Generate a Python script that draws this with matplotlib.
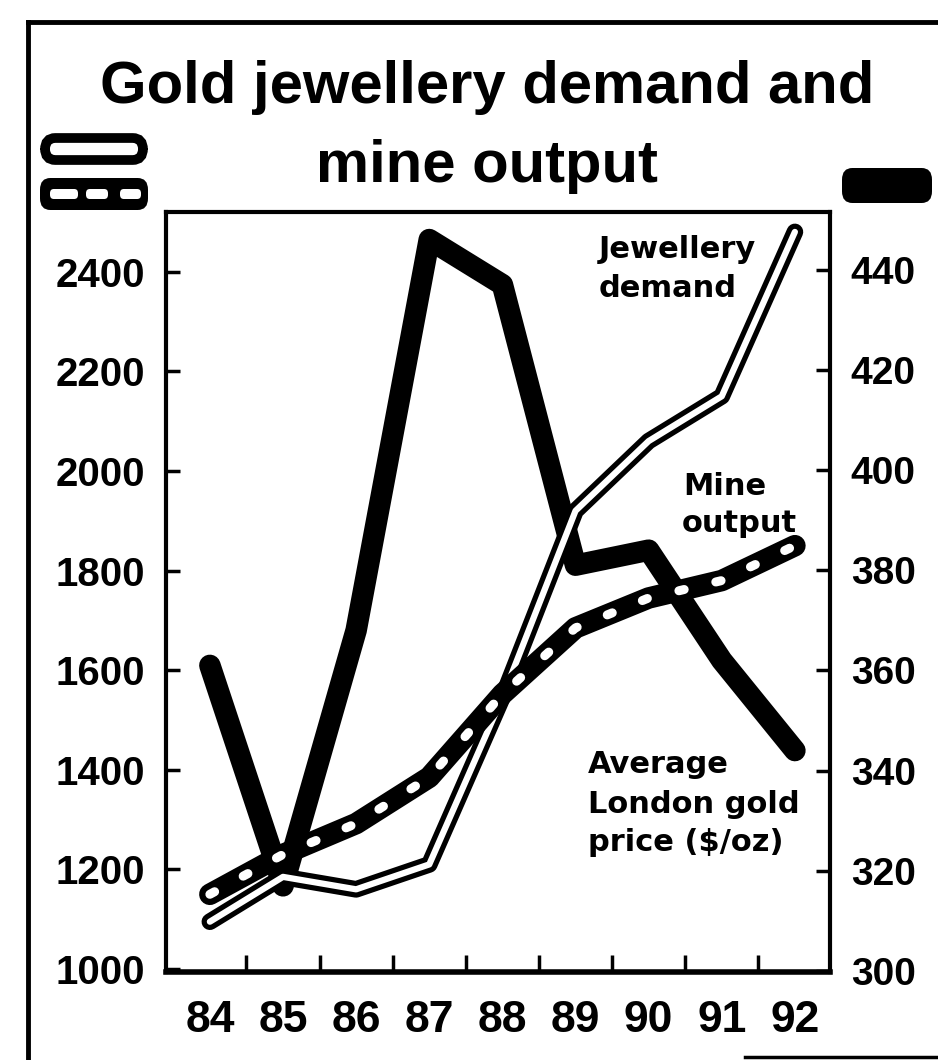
import matplotlib
matplotlib.use("Agg")
import matplotlib.pyplot as plt
from matplotlib.lines import Line2D
from matplotlib.patches import FancyBboxPatch

# Values
years = [84, 85, 86, 87, 88, 89, 90, 91, 92]
year_labels = ["84", "85", "86", "87", "88", "89", "90", "91", "92"]
jewellery_demand = [1095, 1185, 1160, 1210, 1545, 1920, 2060, 2150, 2480]  # tonnes (left)
mine_output = [1150, 1230, 1292, 1385, 1552, 1685, 1745, 1780, 1850]       # tonnes (left)
gold_price = [361, 317, 368, 446, 437, 381, 384, 362, 344]                 # $/oz (right)

left_ticks = [1000, 1200, 1400, 1600, 1800, 2000, 2200, 2400]
right_ticks = [300, 320, 340, 360, 380, 400, 420, 440]

W, H = 938, 1060


def fx(px):
    return px / W


def fy(py):
    return 1 - py / H


plt.rcParams["font.family"] = ["Liberation Sans", "DejaVu Sans"]
plt.rcParams["font.weight"] = "bold"

fig = plt.figure(figsize=(W / 100, H / 100), dpi=100)
fig.patch.set_facecolor("white")

# price axis underneath, tonnes axis on top (so the gold line sits below)
ax = fig.add_axes([fx(166), fy(972), (830 - 166) / W, (972 - 212) / H])
ax2 = ax.twinx()

ax.set_xlim(83.4, 92.48)
ax.set_ylim(299.8, 451.5)
ax2.set_ylim(994, 2520)

# gold price - heavy black line
ax.plot(years, gold_price, color="black", lw=15.5,
        solid_capstyle="round", solid_joinstyle="round")

# jewellery demand - outlined white line
ax2.plot(years, jewellery_demand, color="black", lw=12,
         solid_capstyle="round", solid_joinstyle="round")
ax2.plot(years, jewellery_demand, color="white", lw=4.5,
         solid_capstyle="round", solid_joinstyle="round")

# mine output - black band with white dashes
ax2.plot(years, mine_output, color="black", lw=15.5,
         solid_capstyle="round", solid_joinstyle="round")
ax2.plot(years, mine_output, color="white", lw=6.5,
         linestyle=(0, (0.6, 3.6)), dash_capstyle="round")

# axes / ticks
ax.yaxis.tick_right()
ax2.yaxis.tick_left()
ax.set_yticks(right_ticks)
ax2.set_yticks(left_ticks)
ax.tick_params(axis="y", direction="in", length=10, width=2.5, pad=15,
               labelsize=28)
ax2.tick_params(axis="y", direction="in", length=10, width=2.5, pad=15,
                labelsize=29)

ax.set_xticks(years)
ax.set_xticklabels(year_labels)
ax.set_xticks([y + 0.5 for y in years[:-1]], minor=True)
ax.tick_params(axis="x", which="major", length=0, pad=20, labelsize=32)
ax.tick_params(axis="x", which="minor", direction="in", length=12, width=2.5)
ax.tick_params(axis="y", which="minor", length=0)

for s in ax.spines.values():
    s.set_linewidth(3)
ax.spines["bottom"].set_linewidth(4)
for s in ax2.spines.values():
    s.set_visible(False)

# title
title_font = dict(family="Liberation Sans", fontweight="bold", fontsize=43,
                  ha="center", va="baseline")
fig.text(fx(487), fy(103), "Gold jewellery demand and", **title_font)
fig.text(fx(487), fy(182), "mine output", **title_font)

# in-chart labels
note_font = dict(family="DejaVu Sans", fontweight="bold", fontsize=22,
                 ha="left", va="baseline")
notes = [
    (599, 258, "Jewellery"), (599, 297, "demand"),
    (683, 495, "Mine"), (682, 532, "output"),
    (588, 773, "Average"), (588, 813, "London gold"), (588, 851, "price ($/oz)"),
]
for x, y, txt in notes:
    fig.text(fx(x), fy(y), txt, **note_font)


# key swatches at the top of each axis
def key_box(x0, y0, x1, y1, fc, ec="black", lw=0, r=0.011):
    fig.add_artist(FancyBboxPatch((fx(x0), fy(y1)), (x1 - x0) / W, (y1 - y0) / H,
                                  boxstyle=f"round,pad=0,rounding_size={r}",
                                  fc=fc, ec=ec, lw=lw, transform=fig.transFigure))


key_box(45, 138, 143, 160, "white", lw=7)            # jewellery
key_box(40, 178, 148, 210, "black")                  # mine output
for x0, x1 in [(50, 78), (86, 108), (120, 141)]:
    key_box(x0, 189, x1, 199, "white", r=0.004)
key_box(842, 168, 932, 203, "black")                 # gold price

# clipping border
fig.add_artist(Line2D([fx(28), fx(28)], [fy(22), fy(1060)], color="black",
                      lw=3.5, transform=fig.transFigure))
fig.add_artist(Line2D([fx(28), 1], [fy(22), fy(22)], color="black",
                      lw=3.5, transform=fig.transFigure))
fig.add_artist(Line2D([fx(745), 1], [fy(1057), fy(1057)], color="black",
                      lw=2.5, transform=fig.transFigure))

fig.savefig("out.png", dpi=100)
